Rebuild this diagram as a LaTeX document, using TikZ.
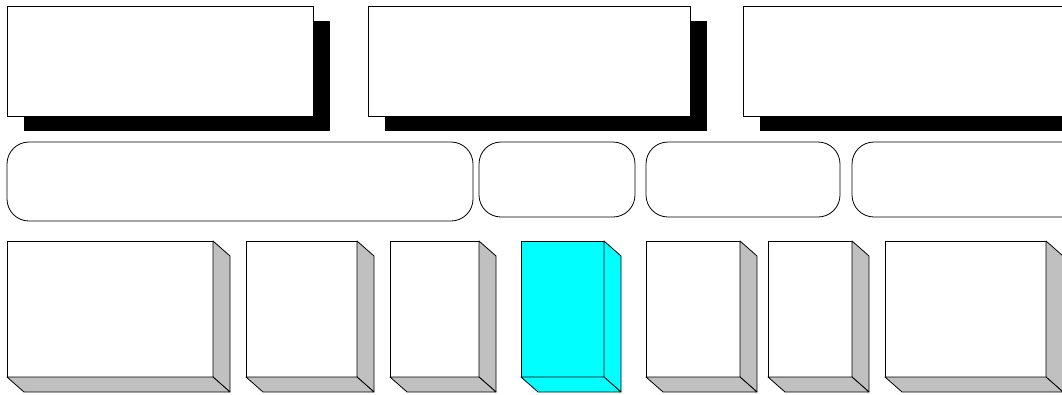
\documentclass[tikz,border=0pt]{standalone}
\usetikzlibrary{calc}
\definecolor{sidegray}{RGB}{192,192,192}
\definecolor{cyanbox}{RGB}{0,255,255}
% #1 name, #2 left x, #3 width, #4 front fill, #5 depth fill
\newcommand\threedbox[5]{%
  \node[frontface, fill=#4, minimum width=#3pt] (#1) at (#2,241) {};
  \draw[depthface, fill=#5] (#1.north east) -- ++(17,15) -- ($(#1.south east)+(17,15)$) -- (#1.south east) -- cycle;
  \draw[depthface, fill=#5] (#1.south west) -- ++(17,15) -- ($(#1.south east)+(17,15)$) -- (#1.south east) -- cycle;
}
\begin{document}
\begin{tikzpicture}[x=1pt,y=-1pt,
  topbox/.style={draw, fill=white, line width=0.8pt, anchor=north west, inner sep=0pt, outer sep=0pt, minimum height=110pt},
  shadowrect/.style={fill=black, anchor=north west, inner sep=0pt, outer sep=0pt, minimum height=110pt},
  pill/.style={draw, fill=white, line width=0.8pt, rounded corners=22pt, anchor=north west, inner sep=0pt, outer sep=0pt},
  frontface/.style={draw, line width=0.8pt, anchor=north west, inner sep=0pt, outer sep=0pt, minimum height=136pt},
  depthface/.style={draw, line width=0.8pt, line join=round}]
\useasboundingbox (0,0) rectangle (1062,394);
\clip (0,0) rectangle (1062,394);
% top row with drop shadows
\node[shadowrect, minimum width=306pt] (s1) at (24,21) {};
\node[topbox, minimum width=306pt] (t1) at (7,6) {};
\node[shadowrect, minimum width=322pt] (s2) at (385,21) {};
\node[topbox, minimum width=322pt] (t2) at (368,6) {};
\node[shadowrect, minimum width=330pt] (s3) at (760,21) {};
\node[topbox, minimum width=330pt] (t3) at (743,6) {};
% middle row rounded boxes
\node[pill, minimum width=466pt, minimum height=79pt] (r1) at (7,142) {};
\node[pill, minimum width=156pt, minimum height=75pt] (r2) at (479,142) {};
\node[pill, minimum width=194pt, minimum height=75pt] (r3) at (646,142) {};
\node[pill, minimum width=240pt, minimum height=75pt] (r4) at (852,142) {};
% bottom row 3D boxes
\threedbox{b1}{7}{206}{white}{sidegray}
\threedbox{b2}{246}{111}{white}{sidegray}
\threedbox{b3}{390}{89}{white}{sidegray}
\threedbox{b4}{521}{83}{cyanbox}{cyanbox}
\threedbox{b5}{646}{94}{white}{sidegray}
\threedbox{b6}{768}{84}{white}{sidegray}
\threedbox{b7}{885}{161}{white}{sidegray}
\end{tikzpicture}
\end{document}
